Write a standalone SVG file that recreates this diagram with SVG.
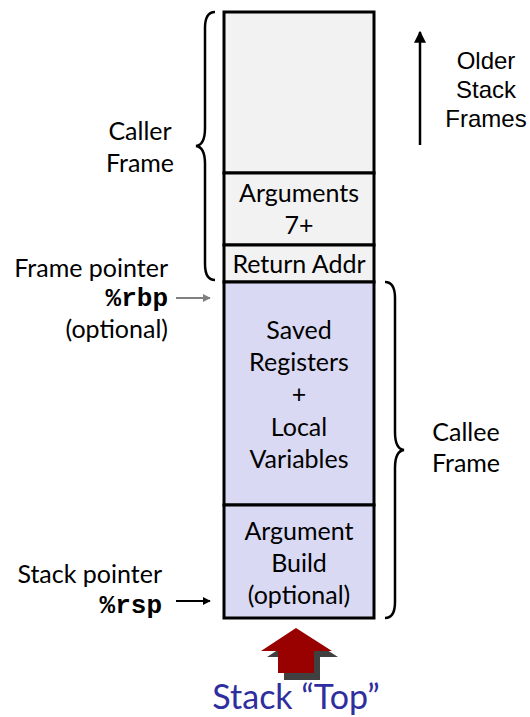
<svg xmlns="http://www.w3.org/2000/svg" width="530" height="717" viewBox="0 0 530 717">
<style>
.t{font-family:Lato,"Open Sans","Liberation Sans",sans-serif;font-size:25px;fill:#000;text-anchor:middle}
.r{text-anchor:end}
.m{font-family:"Liberation Mono","DejaVu Sans Mono",monospace;font-size:26px;font-weight:bold;text-anchor:end}
.a{font-family:"Liberation Sans",Arial,sans-serif;font-size:24px;text-anchor:middle}
.box{stroke:#000;stroke-width:3}
.brace{fill:none;stroke:#000;stroke-width:2.5}
</style>
<defs>
<marker id="ah" viewBox="0 0 10 10" refX="9" refY="5" markerWidth="8" markerHeight="8" markerUnits="userSpaceOnUse" orient="auto"><path d="M0,0L10,5L0,10z" fill="#000"/></marker>
<marker id="ahg" viewBox="0 0 10 10" refX="9" refY="5" markerWidth="8" markerHeight="8" markerUnits="userSpaceOnUse" orient="auto"><path d="M0,0L10,5L0,10z" fill="#808080"/></marker>
<marker id="ahu" viewBox="0 0 10 10" refX="9" refY="5" markerWidth="12" markerHeight="14" markerUnits="userSpaceOnUse" orient="auto"><path d="M0,0L10,5L0,10z" fill="#000"/></marker>
</defs>
<g id="older">
<rect class="box" x="224" y="12" width="150" height="161" fill="#f2f2f2"/>
</g>
<g id="arguments">
<rect class="box" x="224" y="173" width="150" height="72" fill="#f2f2f2"/>
<text class="t" x="299" y="202">Arguments</text>
<text class="t" x="299" y="234">7+</text>
</g>
<g id="retaddr">
<rect class="box" x="224" y="245" width="150" height="37" fill="#f2f2f2"/>
<text class="t" x="299" y="273">Return Addr</text>
</g>
<g id="saved">
<rect class="box" x="224" y="282" width="150" height="223" fill="#d9d9f3"/>
<text class="t" x="299" y="339">Saved</text>
<text class="t" x="299" y="371">Registers</text>
<text class="t" x="299" y="403">+</text>
<text class="t" x="299" y="436">Local</text>
<text class="t" x="299" y="468">Variables</text>
</g>
<g id="argbuild">
<rect class="box" x="224" y="505" width="150" height="113" fill="#d9d9f3"/>
<text class="t" x="299" y="540">Argument</text>
<text class="t" x="299" y="572">Build</text>
<text class="t" x="299" y="604">(optional)</text>
</g>
<g id="caller">
<path class="brace" d="M215,12 Q205,12 205,28 L205,128 Q205,145 196,146 Q205,147 205,164 L205,264 Q205,280 215,280"/>
<text class="t" x="140" y="140">Caller</text>
<text class="t" x="140" y="172">Frame</text>
</g>
<g id="callee">
<path class="brace" d="M385,282 Q395,282 395,298 L395,432 Q395,449 404,450 Q395,451 395,468 L395,602 Q395,618 385,618"/>
<text class="t" x="466" y="441">Callee</text>
<text class="t" x="466" y="472">Frame</text>
</g>
<g id="frameptr">
<text class="t r" x="168" y="277">Frame pointer</text>
<text class="m" x="168" y="306">%rbp</text>
<text class="t r" x="168" y="338">(optional)</text>
</g>
<g id="stackptr">
<text class="t r" x="162" y="583">Stack pointer</text>
<text class="m" x="162" y="613">%rsp</text>
</g>
<g id="olderframes">
<text class="a" x="486" y="69">Older</text>
<text class="a" x="486" y="98">Stack</text>
<text class="a" x="486" y="127">Frames</text>
</g>
<g id="stacktop">
<path d="M302,634 L338,657 L320,657 L320,680 L284,680 L284,657 L267,657 Z" fill="#404040"/>
<path d="M296,628 L332,651 L314,651 L314,673 L278,673 L278,651 L261,651 Z" fill="#990000"/>
<text x="296" y="709" style="font-family:Lato,'Open Sans','Liberation Sans',sans-serif;font-size:34px;fill:#2e2e9e;text-anchor:middle">Stack “Top”</text>
</g>
<g id="connectors">
<line x1="176" y1="298" x2="210" y2="298" stroke="#808080" stroke-width="2" marker-end="url(#ahg)"/>
<line x1="176" y1="601" x2="210" y2="601" stroke="#000" stroke-width="2" marker-end="url(#ah)"/>
<line x1="420" y1="145" x2="420" y2="32" stroke="#000" stroke-width="2.5" marker-end="url(#ahu)"/>
</g>
</svg>
